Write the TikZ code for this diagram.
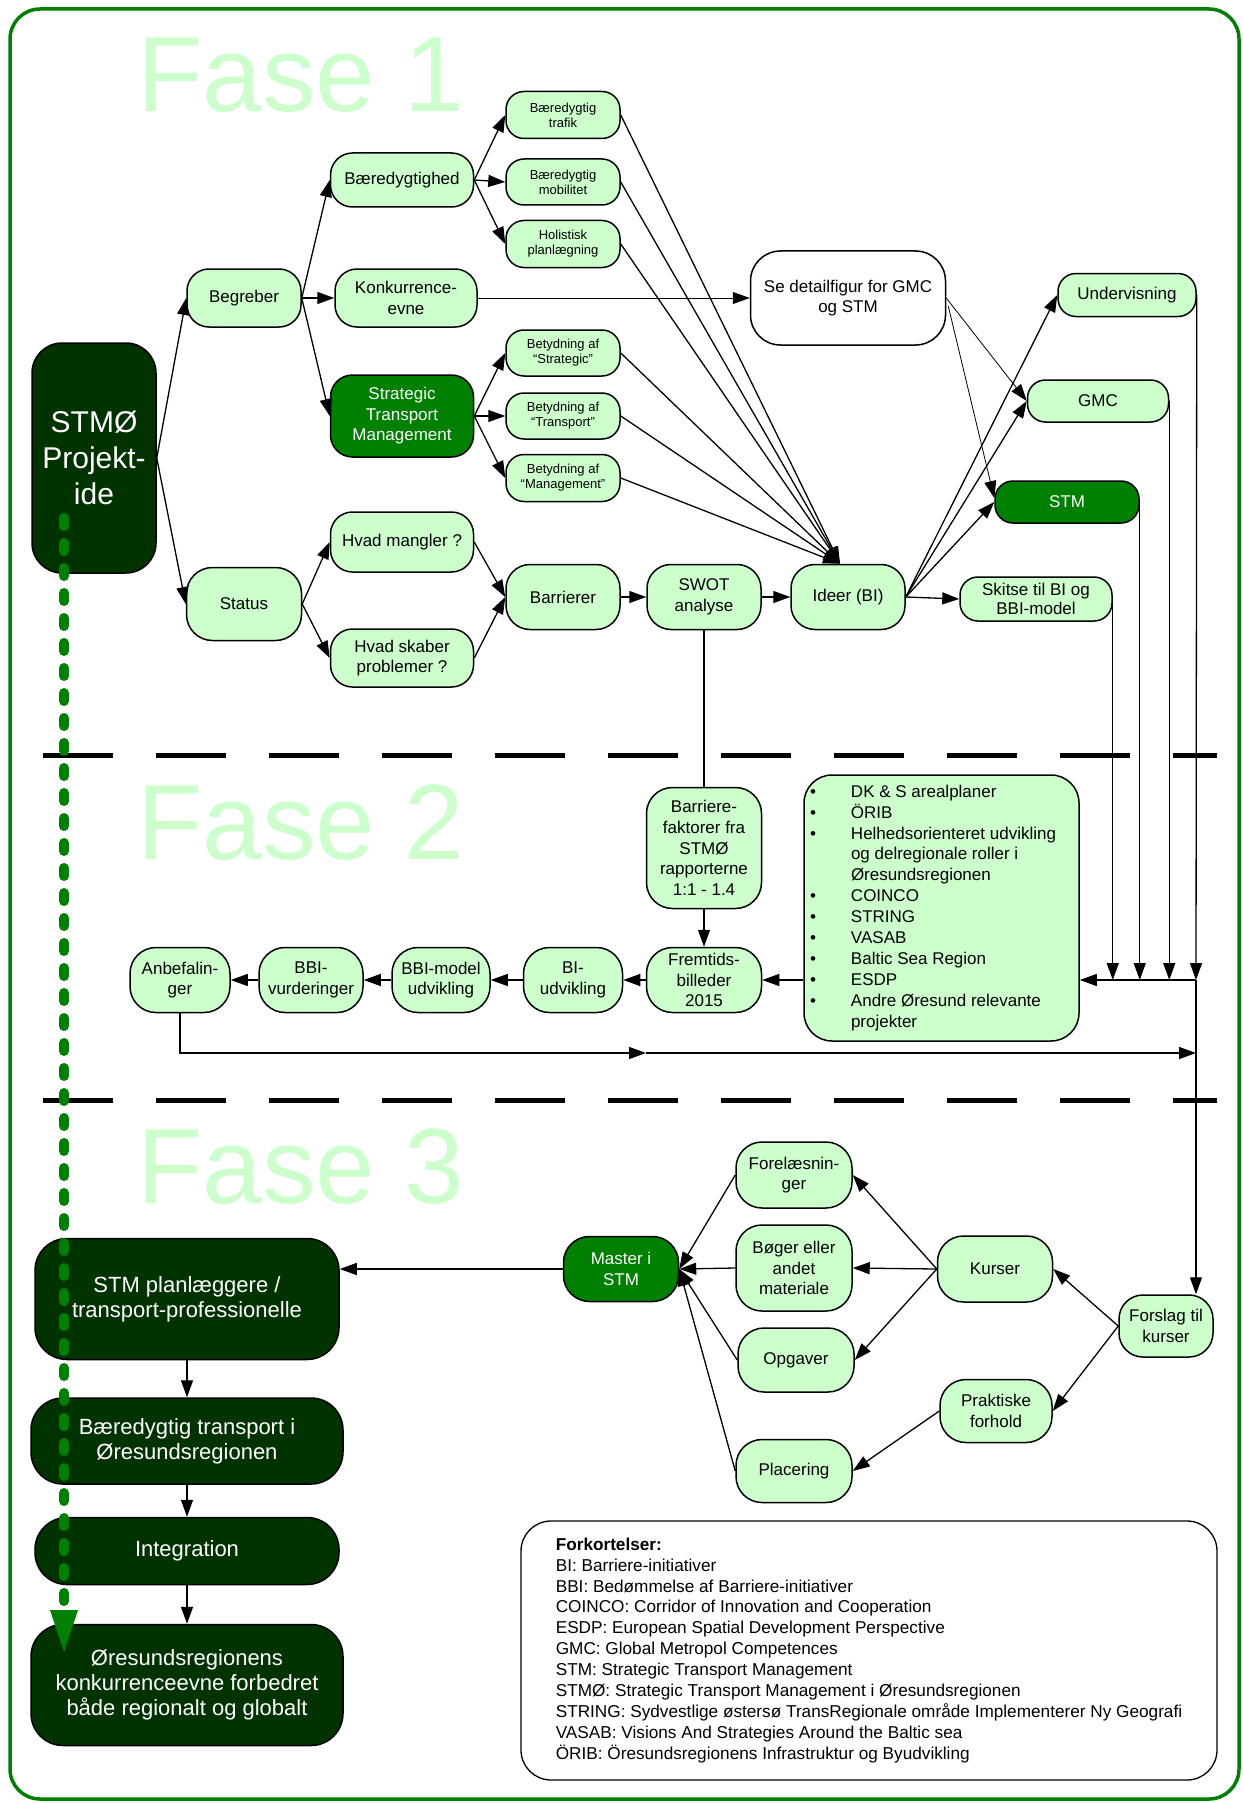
\documentclass[tikz,border=0pt]{standalone}
\usepackage{fontspec}
\setmainfont{Liberation Sans}
\usetikzlibrary{arrows.meta,calc}
\definecolor{lightg}{HTML}{CCFFCC}
\definecolor{midg}{HTML}{008000}
\definecolor{darkg}{HTML}{003300}
\newcommand\fsz[2]{\fontsize{#1}{#2}\selectfont}

\tikzset{
  nodebase/.style={draw=black, line width=1.5pt, align=center, inner sep=0pt, font=\fsz{17}{20.5}},
  lbox/.style={nodebase, fill=lightg, rounded corners=22pt},
  sbox/.style={lbox, font=\fsz{13}{15}, rounded corners=18pt},
  gbox/.style={nodebase, fill=midg, text=white, rounded corners=22pt},
  dbox/.style={nodebase, fill=darkg, text=white, rounded corners=32pt, font=\fsz{22}{25}},
  sz/.style 2 args={minimum width=#1pt, minimum height=#2pt},
  arr/.style={line width=1.3pt, -{Triangle[length=17pt,width=12pt]}},
  thin arr/.style={line width=0.8pt, -{Triangle[length=17pt,width=12pt]}},
  link/.style={line width=1.3pt},
  phase/.style={text=lightg, font=\fsz{107}{110}, anchor=base west, inner sep=0pt},
  separator/.style={line width=5pt, dash pattern=on 70pt off 43pt},
}

\begin{document}
\begin{tikzpicture}[x=1pt,y=-1pt]
\useasboundingbox (0,0) rectangle (1242,1803);

% outer frame
\draw[midg, line width=3.5pt, rounded corners=30pt] (10,9) rectangle (1239,1799);

% phase titles
\node[phase] (f1) at (137,112) {Fase 1};
\node[phase] (f2) at (137,859) {Fase 2};
\node[phase] (f3) at (137,1203) {Fase 3};

% phase separators
\draw[separator] (43,755) -- (1217,755);
\draw[separator] (43,1100) -- (1217,1100);

% ---------- Fase 1 ----------
\node[dbox, sz={124}{230}, font=\fsz{30}{36}, rounded corners=30pt] (stmo) at (94,458) {STMØ\\Projekt-\\ide};

\node[lbox, sz={114}{58}] (begr) at (244,298) {Begreber};
\node[lbox, sz={143}{54}] (baer) at (402,180) {Bæredygtighed};
\node[lbox, sz={142}{58}] (konk) at (406,298) {Konkurrence-\\evne};
\node[gbox, sz={143}{82}] (stmg) at (402,416) {Strategic\\Transport\\Management};

\node[sbox, sz={114}{47}] (btraf) at (563,115) {Bæredygtig\\trafik};
\node[sbox, sz={114}{46}] (bmob) at (563,182) {Bæredygtig\\mobilitet};
\node[sbox, sz={114}{47}] (holi) at (563,244) {Holistisk\\planlægning};
\node[sbox, sz={114}{46}] (bstr) at (563,353) {Betydning af\\“Strategic”};
\node[sbox, sz={114}{46}] (btra) at (563,416) {Betydning af\\“Transport”};
\node[sbox, sz={114}{47}] (bman) at (563,478) {Betydning af\\“Management”};

\node[lbox, sz={115}{73}, rounded corners=26pt] (status) at (244,604) {Status};
\node[lbox, sz={143}{60}] (hvm) at (402,542) {Hvad mangler ?};
\node[lbox, sz={143}{58}] (hvs) at (402,658) {Hvad skaber\\problemer ?};
\node[lbox, sz={114}{65}, rounded corners=24pt] (barr) at (563,597) {Barrierer};
\node[lbox, sz={114}{65}, rounded corners=24pt] (swot) at (704,597) {SWOT\\analyse};
\node[lbox, sz={114}{65}, rounded corners=24pt] (ideer) at (848,597) {Ideer (BI)};
\node[lbox, sz={152}{44}, rounded corners=18pt, font=\fsz{17}{19}] (skitse) at (1036,599) {Skitse til BI og\\BBI-model};

\node[nodebase, fill=white, rounded corners=30pt, sz={195}{94}] (sedet) at (848,298) {Se detailfigur for GMC\\og STM};
\node[lbox, sz={138}{43}, rounded corners=18pt] (underv) at (1127,295) {Undervisning};
\node[lbox, sz={141}{42}, rounded corners=18pt] (gmc) at (1098,401) {GMC};
\node[gbox, sz={144}{42}, rounded corners=18pt] (stm) at (1067,502) {STM};

% ---------- Fase 2 ----------
\node[lbox, sz={115}{121}, rounded corners=26pt, font=\fsz{17}{20.7}] (barf) at (704,848) {Barriere-\\faktorer fra\\STMØ\\rapporterne\\1:1 - 1.4};
\node[lbox, sz={115}{65}, rounded corners=26pt] (fremt) at (704,980) {Fremtids-\\billeder\\2015};
\node[lbox, sz={99}{65}, rounded corners=26pt] (biu) at (573,980) {BI-\\udvikling};
\node[lbox, sz={98}{65}, rounded corners=26pt] (bbim) at (441,980) {BBI-model\\udvikling};
\node[lbox, sz={104}{65}, rounded corners=26pt] (bbiv) at (311,980) {BBI-\\vurderinger};
\node[lbox, sz={100}{65}, rounded corners=26pt] (anb) at (180,980) {Anbefalin-\\ger};

\node[lbox, sz={275}{266}, rounded corners=28pt, align=left, font=\fsz{17}{20.9}] (plans) at (941.5,908) {%
\begin{tabular}{@{}p{41pt}@{}p{222pt}@{}}
\textbullet & DK \& S arealplaner\\
\textbullet & ÖRIB\\
\textbullet & Helhedsorienteret udvikling\newline og delregionale roller i\newline Øresundsregionen\\
\textbullet & COINCO\\
\textbullet & STRING\\
\textbullet & VASAB\\
\textbullet & Baltic Sea Region\\
\textbullet & ESDP\\
\textbullet & Andre Øresund relevante\newline projekter
\end{tabular}};

% ---------- Fase 3 ----------
\node[lbox, sz={94}{62}, rounded corners=24pt] (forsl) at (1166,1326) {Forslag til\\kurser};
\node[lbox, sz={115}{66}, rounded corners=26pt] (kurs) at (995,1269) {Kurser};
\node[lbox, sz={112}{63}, rounded corners=26pt] (prakt) at (996,1411) {Praktiske\\forhold};
\node[lbox, sz={116}{66}, rounded corners=26pt] (forel) at (794,1175) {Forelæsnin-\\ger};
\node[lbox, sz={116}{86}, rounded corners=26pt] (boger) at (794,1268) {Bøger eller\\andet\\materiale};
\node[lbox, sz={116}{64}, rounded corners=26pt] (opg) at (796,1360) {Opgaver};
\node[lbox, sz={116}{63}, rounded corners=26pt] (plac) at (794,1471) {Placering};
\node[gbox, sz={115}{65}, rounded corners=26pt] (master) at (621,1269) {Master i\\STM};

\node[dbox, sz={304}{121}] (stmpl) at (187,1299) {STM planlæggere /\\transport-professionelle};
\node[dbox, sz={312}{86}] (baert) at (187,1441) {Bæredygtig transport i\\Øresundsregionen};
\node[dbox, sz={304}{67}] (integ) at (187,1551) {Integration};
\node[dbox, sz={312}{121}] (ores) at (187,1685) {Øresundsregionens\\konkurrenceevne forbedret\\både regionalt og globalt};

% abbreviations
\node[nodebase, fill=white, rounded corners=30pt, sz={696}{259}, line width=1.3pt, align=left, font=\fsz{17.2}{20.9}] (legend) at (869,1650.5) {%
\begin{tabular}{@{}l@{}}
\textbf{Forkortelser:}\\
BI: Barriere-initiativer\\
BBI: Bedømmelse af Barriere-initiativer\\
COINCO: Corridor of Innovation and Cooperation\\
ESDP: European Spatial Development Perspective\\
GMC: Global Metropol Competences\\
STM: Strategic Transport Management\\
STMØ: Strategic Transport Management i Øresundsregionen\\
STRING: Sydvestlige østersø TransRegionale område Implementerer Ny Geografi\\
VASAB: Visions And Strategies Around the Baltic sea\\
ÖRIB: Öresundsregionens Infrastruktur og Byudvikling
\end{tabular}};

% ---------- connectors, Fase 1 ----------
\draw[arr] (stmo.east) -- (begr.west);
\draw[arr] (stmo.east) -- (status.west);
\foreach \t in {baer,konk,stmg} \draw[arr] (begr.east) -- (\t.west);
\foreach \t in {btraf,bmob,holi} \draw[arr] (baer.east) -- (\t.west);
\foreach \t in {bstr,btra,bman} \draw[arr] (stmg.east) -- (\t.west);
\foreach \t in {hvm,hvs} \draw[arr] (status.east) -- (\t.west);
\foreach \s in {hvm,hvs} \draw[arr] (\s.east) -- (barr.west);
\draw[arr] (barr.east) -- (swot.west);
\draw[arr] (swot.east) -- (ideer.west);
\draw[arr] (ideer.east) -- (skitse.west);
\coordinate (itop) at ($(ideer.north)+(-8,0)$);
\foreach \s in {btraf,bmob,holi,bstr,btra,bman} \draw[arr] (\s.east) -- (itop);
\draw[thin arr] (konk.east) -- (sedet.west);
\draw[thin arr] (sedet.east) -- (gmc.west);
\draw[thin arr] ($(sedet.east)+(2,8)$) -- ($(stm.west)+(0,-4)$);
\foreach \t in {underv,gmc,stm} \draw[arr] (ideer.east) -- (\t.west);

% ---------- connectors, Fase 2 ----------
\coordinate (hj) at (1196,980);
\draw[arr] (skitse.east) -- (skitse.east |- hj);
\draw[arr] (stm.east) -- (stm.east |- hj);
\draw[arr] (gmc.east) -- (gmc.east |- hj);
\draw[arr] (underv.east) -- (hj);
\draw[arr] (hj) -- (plans.east |- hj);
\draw[link] (swot.south) -- (barf.north);
\draw[arr] (barf.south) -- (fremt.north);
\draw[arr] (plans.west |- fremt.east) -- (fremt.east);
\draw[arr] (fremt.west) -- (biu.east);
\draw[arr] (biu.west) -- (bbim.east);
\draw[arr] (bbim.west) -- (bbiv.east);
\draw[arr] (bbiv.west) -- (anb.east);
\coordinate (amid) at (646,1053);
\draw[arr] (anb.south) |- (amid);
\draw[arr] (amid) -- (hj |- amid);

% ---------- connectors, Fase 3 ----------
\draw[arr] (hj) -- (hj |- forsl.north);
\draw[arr] (forsl.west) -- (kurs.east);
\draw[arr] (forsl.west) -- (prakt.east);
\foreach \t in {forel,boger,opg} \draw[arr] (kurs.west) -- (\t.east);
\draw[arr] (prakt.west) -- (plac.east);
\foreach \s in {forel,boger,opg,plac} \draw[arr] (\s.west) -- (master.east);
\draw[arr] (master.west) -- (stmpl.east |- master.west);
\draw[arr] (stmpl.south) -- (baert.north);
\draw[arr] (baert.south) -- (integ.north);
\draw[arr] (integ.south) -- (ores.north);

% overall progression, idea to result
\coordinate (gs) at (64,518);
\coordinate (ge) at (64,1652);
\draw[midg, line width=10pt, line cap=round, dash pattern=on 8pt off 17pt,
      -{Triangle[length=42pt,width=28pt,line width=0pt]}] (gs) -- (ge);
\end{tikzpicture}
\end{document}
